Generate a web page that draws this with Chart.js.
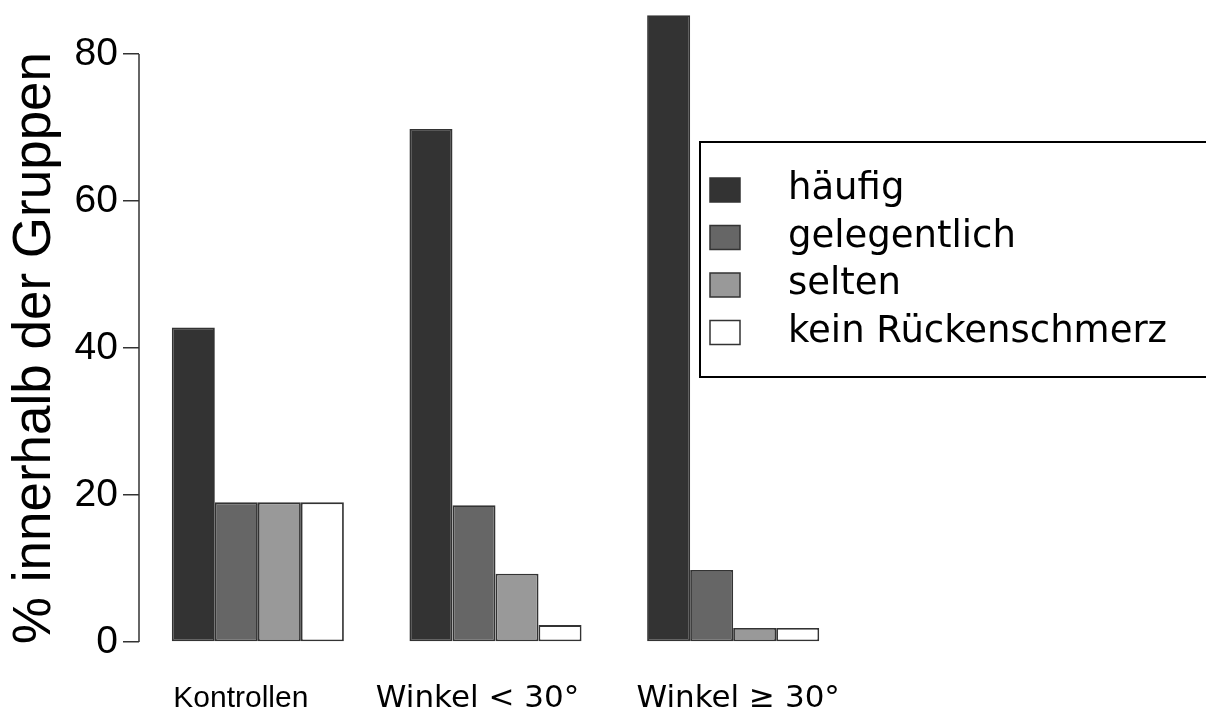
<!DOCTYPE html>
<html>
<head>
<meta charset="utf-8">
<script src="https://cdn.jsdelivr.net/npm/chart.js@4/dist/chart.umd.min.js"></script>
<style>
  html, body { margin: 0; padding: 0; background: #fff; }
  #wrap { width: 1206px; height: 713px; }
</style>
</head>
<body>
<div id="wrap"><canvas id="my-chart" width="1206" height="713"></canvas></div>
<script>
// data
const categories = ['Kontrollen', 'Winkel < 30°', 'Winkel ≥ 30°'];
const seriesNames = ['häufig', 'gelegentlich', 'selten', 'kein Rückenschmerz'];
const haeufig = [42.8, 69.8, 85.3];
const gelegentlich = [19.0, 18.6, 9.8];
const selten = [19.0, 9.3, 1.9];
const keinSchmerz = [19.0, 2.3, 1.9];
const yTicks = [0, 20, 40, 60, 80];

const fills = ['#333333', '#666666', '#999999', '#ffffff'];
const lineColor = '#333333';
const arial = '"Liberation Sans", Arial, sans-serif';
const dejavu = '"DejaVu Sans", Verdana, sans-serif';

// group labels: the first one is set in Arial, the others in DejaVu (as in the original)
const labelFonts = ['30px ' + arial, '31px ' + dejavu, '31px ' + dejavu];
const labelShift = [-17, -18, 5];

// axis line only from 0 to 80 (like R), title, group labels and legend drawn on canvas
const extras = {
  id: 'extras',
  afterDraw(chart) {
    const ctx = chart.ctx;
    const y = chart.scales.y;
    const x = chart.scales.x;
    const x0 = chart.chartArea.left;
    ctx.save();
    ctx.strokeStyle = lineColor;
    ctx.lineWidth = 1.5;
    ctx.beginPath();
    ctx.moveTo(x0, y.getPixelForValue(yTicks[0]));
    ctx.lineTo(x0, y.getPixelForValue(yTicks[yTicks.length - 1]));
    ctx.stroke();

    // group labels under the bars
    ctx.fillStyle = '#000';
    ctx.textAlign = 'center';
    ctx.textBaseline = 'alphabetic';
    chart.data.labels.forEach((lab, i) => {
      ctx.font = labelFonts[i];
      ctx.fillText(lab, x.getPixelForValue(i) + labelShift[i], chart.chartArea.bottom + 65);
    });

    // y title
    ctx.save();
    ctx.translate(50, y.getPixelForValue(40));
    ctx.rotate(-Math.PI / 2);
    ctx.font = '53px ' + arial;
    ctx.fillStyle = '#000';
    ctx.textAlign = 'center';
    ctx.textBaseline = 'alphabetic';
    ctx.fillText('% innerhalb der Gruppen', 0, 0);
    ctx.restore();

    // legend box
    ctx.lineWidth = 2;
    ctx.strokeStyle = '#000';
    ctx.fillStyle = '#fff';
    ctx.fillRect(700, 142, 520, 235);
    ctx.strokeRect(700, 142, 520, 235);
    ctx.font = '37px ' + dejavu;
    ctx.textAlign = 'left';
    ctx.textBaseline = 'alphabetic';
    chart.data.datasets.forEach((ds, i) => {
      const rowY = 190 + i * 47.5;
      ctx.fillStyle = ds.backgroundColor;
      ctx.fillRect(710, rowY - 12, 30, 24);
      ctx.lineWidth = 1.5;
      ctx.strokeStyle = lineColor;
      ctx.strokeRect(710, rowY - 12, 30, 24);
      ctx.fillStyle = '#000';
      ctx.fillText(ds.label, 788, rowY + 9);
    });
    ctx.restore();
  }
};

const values = [haeufig, gelegentlich, selten, keinSchmerz];

const ctx = document.getElementById('my-chart').getContext('2d');
const chart = new Chart(ctx, {
  type: 'bar',
  data: {
    labels: categories,
    datasets: seriesNames.map((name, i) => ({
      label: name,
      data: values[i],
      backgroundColor: fills[i],
      borderColor: lineColor,
      borderWidth: 1.8,
      borderSkipped: false,
      barPercentage: 1,
      categoryPercentage: 0.724
    }))
  },
  options: {
    responsive: false,
    animation: false,
    layout: { padding: { top: 10, right: 354, left: 0, bottom: 0 } },
    plugins: {
      legend: { display: false },
      tooltip: { enabled: false }
    },
    scales: {
      x: {
        grid: { display: false, drawTicks: false },
        border: { display: false },
        ticks: { display: false },
        afterFit(scale) { scale.height = 71; scale.paddingLeft = 0; scale.paddingRight = 0; }
      },
      y: {
        min: 0,
        max: 86,
        afterBuildTicks(scale) { scale.ticks = yTicks.map(v => ({ value: v })); },
        grid: { drawOnChartArea: false, drawTicks: true, tickLength: 16, color: lineColor, lineWidth: 1.5 },
        border: { display: false },
        ticks: {
          color: '#000',
          padding: 5,
          font: { family: arial, size: 39 }
        },
        afterFit(scale) { scale.width = 139; scale.paddingTop = 0; scale.paddingBottom = 0; }
      }
    }
  },
  plugins: [extras]
}); // closes chart
</script>
</body>
</html>
